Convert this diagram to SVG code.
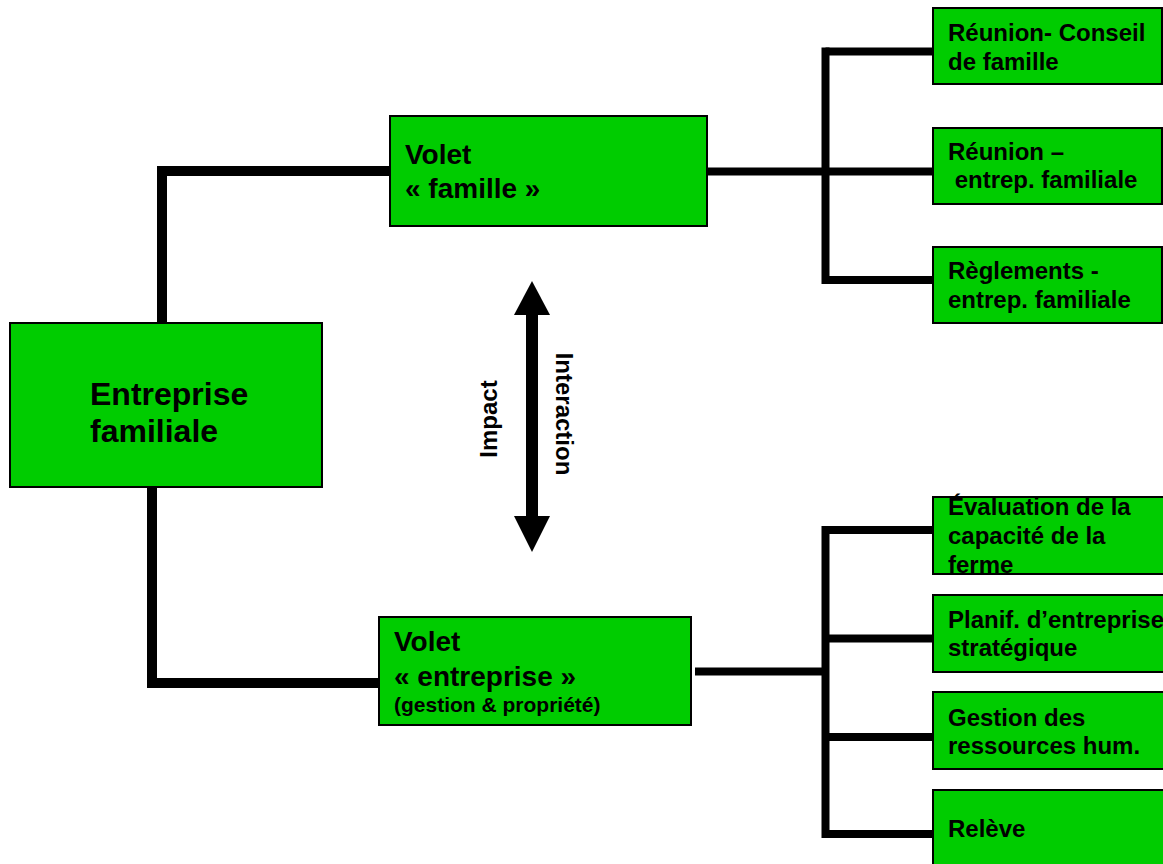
<svg xmlns="http://www.w3.org/2000/svg" width="1163" height="864" viewBox="0 0 1163 864">
  <style>
    .box { fill: #00CC00; stroke: #000; stroke-width: 2; }
    .edge { fill: none; stroke: #000; stroke-width: 8; stroke-linecap: butt; stroke-linejoin: miter; }
    .edge.thick { stroke-width: 10; }
    text { font-family: "Liberation Sans", Arial, sans-serif; font-weight: bold; fill: #000; }
    .t32 { font-size: 32px; }
    .t28 { font-size: 28px; }
    .t24 { font-size: 24px; }
    .t21 { font-size: 21px; }
  </style>
  <defs>
    <clipPath id="clip-eval">
      <rect x="933" y="497" width="240" height="77"/>
    </clipPath>
  </defs>
  <rect width="1163" height="864" fill="#fff"/>

  <!-- connectors -->
  <g id="connectors">
    <polyline class="edge thick" points="162,323 162,171 390,171"/>
    <polyline class="edge thick" points="152,487 152,683 379,683"/>
    <!-- family branch -->
    <line class="edge" x1="707" y1="171.5" x2="933" y2="171.5"/>
    <line class="edge" x1="825.5" y1="47.5" x2="825.5" y2="284"/>
    <line class="edge" x1="825.5" y1="51.5" x2="933" y2="51.5"/>
    <line class="edge" x1="825.5" y1="280" x2="933" y2="280"/>
    <!-- business branch -->
    <line class="edge" x1="695" y1="671.5" x2="825.5" y2="671.5"/>
    <line class="edge" x1="825.5" y1="526" x2="825.5" y2="838"/>
    <line class="edge" x1="825.5" y1="530" x2="933" y2="530"/>
    <line class="edge" x1="825.5" y1="638.5" x2="933" y2="638.5"/>
    <line class="edge" x1="825.5" y1="737" x2="933" y2="737"/>
    <line class="edge" x1="825.5" y1="834" x2="933" y2="834"/>
    <!-- two-way interaction arrow -->
    <g id="interaction-arrow">
      <rect x="526" y="312" width="12" height="207" fill="#000"/>
      <polygon points="532,281 550,315 514,315" fill="#000"/>
      <polygon points="532,552 550,516 514,516" fill="#000"/>
    </g>
  </g>

  <g id="label-impact">
    <text class="t24" text-anchor="middle" transform="translate(497,419) rotate(-90)">Impact</text>
  </g>
  <g id="label-interaction">
    <text class="t24" text-anchor="middle" transform="translate(556,414) rotate(90)">Interaction</text>
  </g>

  <g id="node-entreprise-familiale">
    <rect class="box" x="10" y="323" width="312" height="164"/>
    <text class="t32" x="90" y="405">Entreprise</text>
    <text class="t32" x="90" y="442">familiale</text>
  </g>

  <g id="node-volet-famille">
    <rect class="box" x="390" y="116" width="317" height="110"/>
    <text class="t28" x="405" y="164">Volet</text>
    <text class="t28" x="405" y="198">« famille »</text>
  </g>

  <g id="node-volet-entreprise">
    <rect class="box" x="379" y="617" width="312" height="108"/>
    <text class="t28" x="394" y="651">Volet</text>
    <text class="t28" x="394" y="686">« entreprise »</text>
    <text class="t21" x="394" y="712">(gestion &amp; propriété)</text>
  </g>

  <g id="node-reunion-conseil">
    <rect class="box" x="933" y="8" width="229" height="76"/>
    <text class="t24" x="948" y="41">Réunion- Conseil</text>
    <text class="t24" x="948" y="70">de famille</text>
  </g>

  <g id="node-reunion-entrep">
    <rect class="box" x="933" y="128" width="229" height="76"/>
    <text class="t24" x="948" y="160">Réunion –</text>
    <text class="t24" x="948" y="188" xml:space="preserve"> entrep. familiale</text>
  </g>

  <g id="node-reglements">
    <rect class="box" x="933" y="247" width="229" height="76"/>
    <text class="t24" x="948" y="279">Règlements -</text>
    <text class="t24" x="948" y="308">entrep. familiale</text>
  </g>

  <g id="node-evaluation">
    <rect class="box" x="933" y="497" width="240" height="77"/>
    <text class="t24" x="948" y="515">Évaluation de la</text>
    <text class="t24" x="948" y="544">capacité de la</text>
    <text class="t24" x="948" y="573" clip-path="url(#clip-eval)">ferme</text>
    <rect x="933" y="497" width="240" height="77" fill="none" stroke="#000" stroke-width="2"/>
  </g>

  <g id="node-planif">
    <rect class="box" x="933" y="595" width="240" height="77"/>
    <text class="t24" x="948" y="628">Planif. d’entreprise</text>
    <text class="t24" x="948" y="656">stratégique</text>
  </g>

  <g id="node-gestion-rh">
    <rect class="box" x="933" y="692" width="240" height="77"/>
    <text class="t24" x="948" y="726">Gestion des</text>
    <text class="t24" x="948" y="754">ressources hum.</text>
  </g>

  <g id="node-releve">
    <rect class="box" x="933" y="790" width="240" height="90"/>
    <text class="t24" x="948" y="837">Relève</text>
  </g>
</svg>
